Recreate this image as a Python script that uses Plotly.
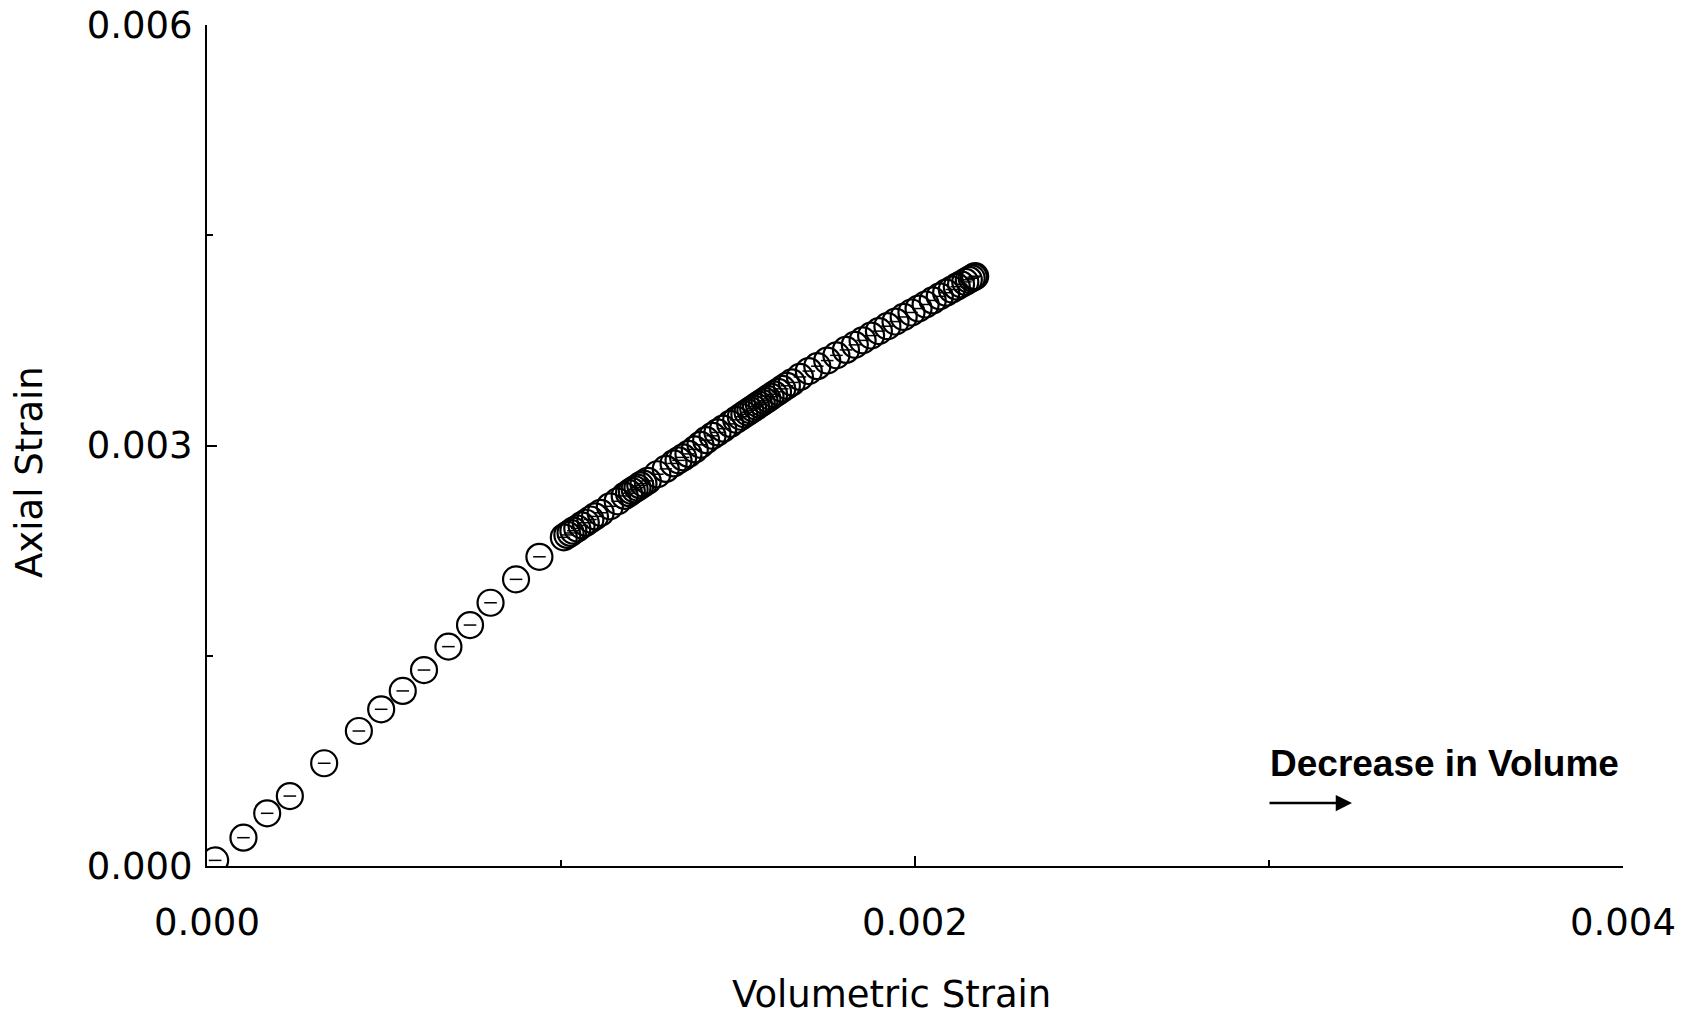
import plotly.graph_objects as go

# Volumetric strain (x) and axial strain (y)
vol_strain = [
    0.000023, 0.000103, 0.000170, 0.000234, 0.000331, 0.000429, 0.000492,
    0.000553, 0.000613, 0.000682, 0.000743, 0.000801, 0.000873, 0.000939,
    0.001008, 0.001018, 0.001027, 0.001035, 0.001046, 0.001058, 0.001070,
    0.001083, 0.001096, 0.001112, 0.001138, 0.001160, 0.001180, 0.001192,
    0.001200, 0.001208, 0.001216, 0.001224, 0.001233, 0.001245, 0.001272,
    0.001296, 0.001318, 0.001332, 0.001345, 0.001360, 0.001378, 0.001394,
    0.001410, 0.001428, 0.001442, 0.001458, 0.001478, 0.001495, 0.001508,
    0.001518, 0.001527, 0.001535, 0.001543, 0.001551, 0.001559, 0.001567,
    0.001575, 0.001583, 0.001592, 0.001602, 0.001613, 0.001625, 0.001638,
    0.001652, 0.001675, 0.001700, 0.001724, 0.001752, 0.001778, 0.001805,
    0.001830, 0.001852, 0.001876, 0.001898, 0.001922, 0.001945, 0.001968,
    0.001990, 0.002010, 0.002030, 0.002050, 0.002070, 0.002088, 0.002104,
    0.002118, 0.002130, 0.002142, 0.002152, 0.002160, 0.002166, 0.002170,
]
axial_strain = [
    0.000040, 0.000202, 0.000376, 0.000499, 0.000733, 0.000963, 0.001118,
    0.001249, 0.001398, 0.001565, 0.001719, 0.001878, 0.002045, 0.002206,
    0.002345, 0.002362, 0.002376, 0.002392, 0.002408, 0.002430, 0.002449,
    0.002472, 0.002494, 0.002520, 0.002566, 0.002602, 0.002640, 0.002660,
    0.002675, 0.002688, 0.002700, 0.002715, 0.002728, 0.002748, 0.002795,
    0.002833, 0.002872, 0.002894, 0.002915, 0.002940, 0.002972, 0.003005,
    0.003038, 0.003069, 0.003093, 0.003120, 0.003154, 0.003183, 0.003205,
    0.003222, 0.003237, 0.003251, 0.003264, 0.003278, 0.003292, 0.003305,
    0.003319, 0.003332, 0.003348, 0.003365, 0.003383, 0.003404, 0.003426,
    0.003450, 0.003489, 0.003531, 0.003566, 0.003606, 0.003643, 0.003682,
    0.003718, 0.003750, 0.003784, 0.003816, 0.003851, 0.003884, 0.003917,
    0.003949, 0.003977, 0.004006, 0.004035, 0.004064, 0.004090, 0.004113,
    0.004133, 0.004150, 0.004167, 0.004182, 0.004193, 0.004202, 0.004208,
]

x_ticks = [0.0, 0.002, 0.004]
x_tick_text = ["0.000", "0.002", "0.004"]
y_ticks = [0.0, 0.003, 0.006]
y_tick_text = ["0.000", "0.003", "0.006"]

x_title = "Volumetric Strain"
y_title = "Axial Strain"
note_text = "Decrease in Volume"

FONT = "DejaVu Sans"

fig = go.Figure()
fig.add_trace(go.Scatter(
    x=vol_strain, y=axial_strain, mode="markers",
    marker=dict(symbol="circle-open", size=26, color="black",
                line=dict(width=2.2, color="black")),
    showlegend=False, hoverinfo="skip",
))
fig.add_trace(go.Scatter(
    x=vol_strain, y=axial_strain, mode="markers",
    marker=dict(symbol="line-ew", size=9, color="black",
                line=dict(width=1.5, color="black")),
    showlegend=False, hoverinfo="skip",
))

fig.update_layout(
    width=1690, height=1017,
    margin=dict(l=207, r=67, t=25, b=151, autoexpand=False),
    paper_bgcolor="white", plot_bgcolor="white",
    font=dict(family=FONT, size=37, color="black"),
)
fig.update_xaxes(
    range=[0, 0.004], showgrid=False, zeroline=False, automargin=False,
    showline=True, linecolor="black", linewidth=2,
    tickvals=x_ticks, ticktext=x_tick_text,
    ticks="inside", ticklen=10, tickwidth=2, tickcolor="black",
    minor=dict(dtick=0.001, ticks="inside", ticklen=6, tickwidth=1.5, tickcolor="black", showgrid=False),
    ticklabelstandoff=23,
    tickfont=dict(family=FONT, size=37, color="black"),
)
fig.update_yaxes(
    range=[0, 0.006], showgrid=False, zeroline=False, automargin=False,
    showline=True, linecolor="black", linewidth=2,
    tickvals=y_ticks, ticktext=y_tick_text,
    ticks="inside", ticklen=10, tickwidth=2, tickcolor="black",
    minor=dict(dtick=0.0015, ticks="inside", ticklen=6, tickwidth=1.5, tickcolor="black", showgrid=False),
    ticklabelstandoff=5,
    tickfont=dict(family=FONT, size=37, color="black"),
)

fig.add_annotation(
    text=x_title, xref="paper", yref="paper", x=0.4837, y=-0.1522,
    xanchor="center", yanchor="middle", showarrow=False,
    font=dict(family=FONT, size=37, color="black"),
)
fig.add_annotation(
    text=y_title, xref="paper", yref="paper", x=-0.125, y=0.4685,
    xanchor="center", yanchor="middle", showarrow=False, textangle=-90,
    font=dict(family=FONT, size=37, color="black"),
)
fig.add_annotation(
    text="<b>" + note_text + "</b>", xref="paper", yref="paper",
    x=(1444 - 207) / 1416, y=(866 - 763) / 841,
    xanchor="center", yanchor="middle", showarrow=False,
    font=dict(family="Liberation Sans", size=37, color="black"),
)
fig.add_annotation(
    text="", xref="paper", yref="paper",
    x=(1352 - 207) / 1416, y=(866 - 803) / 841,
    ax=-84, ay=0, axref="pixel", ayref="pixel",
    showarrow=True, arrowhead=2, arrowsize=1.3, arrowwidth=2.5, arrowcolor="black",
)

fig.write_html("out.html")
